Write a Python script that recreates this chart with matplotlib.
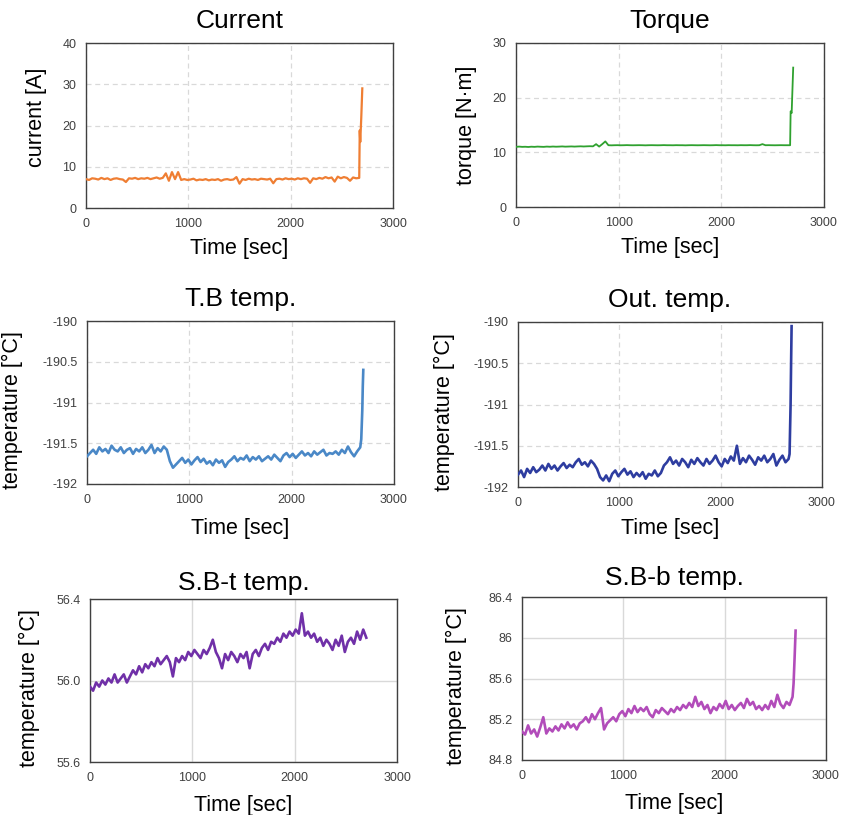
import matplotlib
matplotlib.use("Agg")
import matplotlib.pyplot as plt
import numpy as np

plt.rcParams["font.family"] = ["Liberation Sans", "DejaVu Sans"]

# sampling grid (every 30 s) plus the last few samples where things run away
time_s = np.arange(0, 2700, 30)

current_a = [
    7.0, 6.8, 7.2, 7.1, 6.9, 7.3, 7.0, 7.2, 6.8, 7.1,
    7.2, 7.0, 6.9, 6.3, 7.2, 7.1, 7.3, 7.0, 7.2, 7.1,
    7.3, 7.0, 7.2, 7.4, 7.1, 7.3, 8.4, 6.6, 8.7, 7.0,
    8.7, 6.8, 7.0, 6.8, 6.9, 7.1, 6.7, 6.9, 6.8, 7.0,
    6.7, 6.9, 6.8, 7.0, 6.6, 6.9, 7.0, 6.8, 6.9, 7.5,
    5.9, 7.0, 6.8, 7.1, 6.9, 7.0, 6.8, 7.1, 7.0, 6.9,
    7.1, 6.0, 7.0, 7.1, 6.9, 7.2, 7.0, 7.1, 6.9, 7.2,
    7.0, 7.2, 7.1, 6.1, 7.2, 7.0, 7.3, 7.1, 7.5, 7.2,
    7.4, 6.4, 7.6, 7.2, 7.5, 7.3, 6.6, 7.4, 7.2, 7.3,
]
current_tail_t = [2675, 2680, 2690, 2700]
current_tail = [18.8, 16.0, 22.0, 29.0]

torque_nm = [
    11.00, 11.05, 11.00, 11.02, 10.98, 11.03, 11.00, 11.05, 11.02, 11.00,
    11.05, 11.02, 11.06, 11.03, 11.05, 11.08, 11.04, 11.06, 11.08, 11.05,
    11.08, 11.10, 11.07, 11.10, 11.12, 11.10, 11.50, 11.05, 11.50, 12.00,
    11.30, 11.28, 11.30, 11.31, 11.29, 11.30, 11.32, 11.30, 11.29, 11.30,
    11.31, 11.30, 11.28, 11.30, 11.31, 11.30, 11.29, 11.30, 11.32, 11.30,
    11.30, 11.29, 11.31, 11.30, 11.30, 11.28, 11.30, 11.31, 11.30, 11.29,
    11.30, 11.31, 11.30, 11.29, 11.30, 11.32, 11.30, 11.30, 11.29, 11.31,
    11.30, 11.30, 11.29, 11.31, 11.30, 11.30, 11.32, 11.30, 11.29, 11.30,
    11.50, 11.30, 11.31, 11.30, 11.29, 11.30, 11.31, 11.30, 11.30, 11.30,
]
torque_tail_t = [2675, 2685, 2690, 2700]
torque_tail = [17.5, 17.2, 20.0, 25.5]

tb_temp = [
    -191.66, -191.62, -191.58, -191.63, -191.55, -191.60, -191.57, -191.62, -191.53, -191.58,
    -191.60, -191.55, -191.62, -191.58, -191.56, -191.63, -191.57, -191.60, -191.55, -191.62,
    -191.58, -191.52, -191.62, -191.56, -191.60, -191.54, -191.58, -191.72, -191.80, -191.76,
    -191.72, -191.68, -191.74, -191.70, -191.76, -191.71, -191.67, -191.73, -191.69, -191.75,
    -191.72, -191.77, -191.70, -191.74, -191.71, -191.79, -191.73, -191.70, -191.66, -191.72,
    -191.68, -191.70, -191.65, -191.72, -191.67, -191.70, -191.66, -191.72, -191.69, -191.66,
    -191.70, -191.64, -191.68, -191.72, -191.65, -191.62, -191.67, -191.63, -191.68, -191.64,
    -191.60, -191.65, -191.62, -191.66, -191.60, -191.64, -191.61, -191.58, -191.65, -191.62,
    -191.63, -191.60, -191.64, -191.58, -191.62, -191.54, -191.61, -191.66, -191.60, -191.55,
]
tb_tail_t = [2680, 2690, 2695, 2700]
tb_tail = [-191.45, -191.10, -190.80, -190.60]

out_temp = [
    -191.85, -191.80, -191.88, -191.78, -191.83, -191.76, -191.82, -191.79, -191.74, -191.80,
    -191.72, -191.78, -191.74, -191.80, -191.75, -191.71, -191.77, -191.73, -191.76, -191.70,
    -191.66, -191.73, -191.70, -191.75, -191.68, -191.72, -191.78, -191.88, -191.92, -191.86,
    -191.93, -191.84, -191.80, -191.87, -191.82, -191.78, -191.85, -191.81, -191.88, -191.83,
    -191.87, -191.82, -191.90, -191.84, -191.86, -191.80, -191.87, -191.83, -191.74, -191.70,
    -191.64, -191.72, -191.68, -191.74, -191.66, -191.70, -191.76, -191.67, -191.72, -191.65,
    -191.70, -191.74, -191.66, -191.72, -191.68, -191.62, -191.70, -191.75, -191.66, -191.71,
    -191.63, -191.68, -191.50, -191.72, -191.65, -191.70, -191.62, -191.67, -191.73, -191.64,
    -191.68, -191.62, -191.70, -191.66, -191.60, -191.74, -191.67, -191.62, -191.70, -191.66,
]
out_tail_t = [2680, 2690, 2695, 2700]
out_tail = [-191.60, -191.00, -190.50, -190.05]

sbt_temp = [
    55.97, 55.95, 55.99, 55.97, 56.00, 55.98, 56.01, 55.99, 56.03, 55.99,
    56.01, 56.03, 55.99, 56.02, 56.05, 56.03, 56.07, 56.04, 56.08, 56.06,
    56.09, 56.07, 56.11, 56.08, 56.10, 56.12, 56.09, 56.02, 56.11, 56.09,
    56.12, 56.10, 56.14, 56.12, 56.15, 56.13, 56.11, 56.15, 56.13, 56.16,
    56.20, 56.14, 56.11, 56.06, 56.13, 56.10, 56.14, 56.12, 56.09, 56.13,
    56.11, 56.14, 56.06, 56.13, 56.15, 56.12, 56.16, 56.18, 56.15, 56.19,
    56.18, 56.21, 56.19, 56.23, 56.21, 56.24, 56.22, 56.25, 56.23, 56.33,
    56.22, 56.24, 56.21, 56.23, 56.19, 56.21, 56.17, 56.20, 56.18, 56.15,
    56.20, 56.17, 56.22, 56.14, 56.19, 56.21, 56.18, 56.24, 56.20, 56.25,
]
sbt_tail_t = [2700]
sbt_tail = [56.21]

sbb_temp = [
    85.08, 85.05, 85.14, 85.06, 85.10, 85.03, 85.12, 85.22, 85.06, 85.11,
    85.08, 85.13, 85.09, 85.15, 85.11, 85.17, 85.12, 85.15, 85.10, 85.16,
    85.18, 85.22, 85.17, 85.25, 85.20, 85.26, 85.31, 85.10, 85.16, 85.19,
    85.22, 85.18, 85.25, 85.28, 85.23, 85.30, 85.26, 85.33, 85.27, 85.31,
    85.28, 85.32, 85.25, 85.22, 85.29, 85.26, 85.31, 85.28, 85.25, 85.30,
    85.27, 85.32, 85.29, 85.34, 85.31, 85.36, 85.32, 85.42, 85.33, 85.37,
    85.30, 85.34, 85.26, 85.32, 85.29, 85.35, 85.31, 85.38, 85.30, 85.34,
    85.29, 85.33, 85.36, 85.31, 85.40, 85.34, 85.37, 85.30, 85.33, 85.29,
    85.34, 85.30, 85.38, 85.32, 85.44, 85.35, 85.31, 85.37, 85.34, 85.42,
]
sbb_tail_t = [2680, 2690, 2700]
sbb_tail = [85.55, 85.80, 86.07]

x_ticks = [0, 1000, 2000, 3000]
current_ticks = [0, 10, 20, 30, 40]
torque_ticks = [0, 10, 20, 30]
cryo_ticks = [-192, -191.5, -191, -190.5, -190]
cryo_labels = ["-192", "-191.5", "-191", "-190.5", "-190"]
sbt_ticks = [55.6, 56.0, 56.4]
sbt_labels = ["55.6", "56.0", "56.4"]
sbb_ticks = [84.8, 85.2, 85.6, 86.0, 86.4]
sbb_labels = ["84.8", "85.2", "85.6", "86", "86.4"]

W, H = 844, 815
fig = plt.figure(figsize=(W / 100, H / 100), dpi=100)


def make_ax(left, top, right, bottom):
    return fig.add_axes([left / W, 1 - bottom / H, (right - left) / W, (bottom - top) / H])


panels = [
    # title, ylabel, series, tail_t, tail, color, line width, box (px), ticks, labels,
    # ylabel x/y, xlabel y, solid grid, title pad
    ("Current", "current [A]", current_a, current_tail_t, current_tail, "#EF7E33", 1.6,
     (86, 43, 393, 208), current_ticks, None, -0.127, 0.55, -0.18, False, 10.5),
    ("Torque", "torque [N\u00b7m]", torque_nm, torque_tail_t, torque_tail, "#2FA12F", 1.3,
     (516, 43, 824, 207), torque_ticks, None, -0.127, 0.5, -0.18, False, 10.5),
    ("T.B temp.", "temperature [\u00b0C]", tb_temp, tb_tail_t, tb_tail, "#4A88C7", 1.9,
     (87, 321, 394, 484), cryo_ticks, cryo_labels, -0.208, 0.455, -0.21, False, 11),
    ("Out. temp.", "temperature [\u00b0C]", out_temp, out_tail_t, out_tail, "#2E3DA0", 1.9,
     (518, 322, 822, 487), cryo_ticks, cryo_labels, -0.207, 0.455, -0.19, False, 11),
    ("S.B-t temp.", "temperature [\u00b0C]", sbt_temp, sbt_tail_t, sbt_tail, "#7030A8", 1.9,
     (90, 599, 397, 762), sbt_ticks, sbt_labels, -0.163, 0.455, -0.20, True, 6.5),
    ("S.B-b temp.", "temperature [\u00b0C]", sbb_temp, sbb_tail_t, sbb_tail, "#B24CBA", 1.9,
     (522, 597, 826, 760), sbb_ticks, sbb_labels, -0.181, 0.455, -0.20, True, 8.5),
]

for (title, ylabel, series, tail_t, tail, color, lw, box, yticks, ylabels,
     ylab_x, ylab_y, xlab_y, solid_grid, title_pad) in panels:
    ax = make_ax(*box)
    t = list(time_s) + tail_t
    y = list(series) + tail
    ax.plot(t, y, color=color, linewidth=lw, zorder=3)
    ax.set_xlim(0, 3000)
    ax.set_ylim(yticks[0], yticks[-1])
    ax.set_xticks(x_ticks)
    ax.set_yticks(yticks)
    if ylabels is not None:
        ax.set_yticklabels(ylabels)
    ax.tick_params(length=0, labelsize=9, labelcolor="#404040", pad=7)
    for sp in ax.spines.values():
        sp.set_color("#404040")
        sp.set_linewidth(1.0)
    if solid_grid:
        ax.grid(True, color="#d9d9d9", linewidth=1.0, linestyle="-")
    else:
        ax.grid(True, color="#d9d9d9", linewidth=0.9, linestyle=(0, (4, 3)))
    ax.set_axisbelow(True)
    ax.set_title(title, fontsize=19, pad=title_pad)
    ax.set_ylabel(ylabel, fontsize=15.5)
    ax.yaxis.set_label_coords(ylab_x, ylab_y)
    ax.set_xlabel("Time [sec]", fontsize=15.5)
    ax.xaxis.set_label_coords(0.5, xlab_y)

fig.savefig("out.png", dpi=100)
